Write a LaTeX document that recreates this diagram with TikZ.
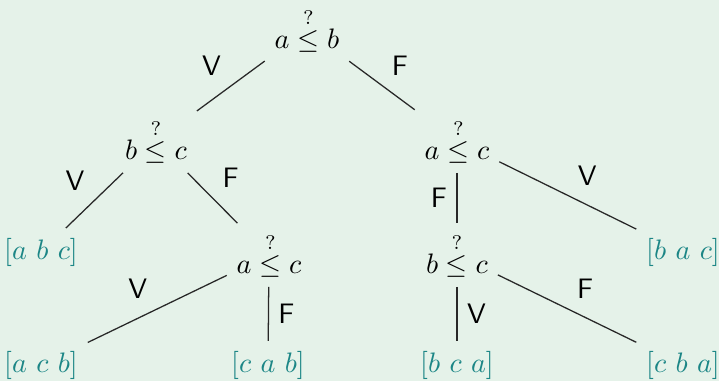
\documentclass[tikz,border=0pt]{standalone}
\usepackage{amsmath, amssymb}
\usepackage[dvipsnames]{xcolor}
\usepackage{tikz}
\usetikzlibrary{arrows.meta,calc,positioning}
\definecolor{bgmint}{RGB}{229,242,233}
\definecolor{leafteal}{RGB}{28,134,134}
\definecolor{edgegray}{RGB}{40,40,40}

\begin{document}
\begin{tikzpicture}[x=0.355pt,y=-0.355pt,
    leaf/.style={text=leafteal},
    lbl/.style={font=\sffamily, text=black},
    edge/.style={draw=edgegray, line width=0.45pt}]
        %Background
        \fill[bgmint] (0,0) rectangle (719,381);
        \useasboundingbox (0,0) rectangle (719,381);
        %Comparisons
        \node (root) at (307,30) {$a \stackrel{?}{\leq} b$};
        \node (l) at (156,141) {$b \stackrel{?}{\leq} c$};
        \node (r) at (457,141) {$a \stackrel{?}{\leq} c$};
        \node (lr) at (269,255) {$a \stackrel{?}{\leq} c$};
        \node (rl) at (457,255) {$b \stackrel{?}{\leq} c$};
        %Leaves
        \node[leaf] (ll) at (41,252) {$[a\ b\ c]$};
        \node[leaf] (rr) at (683,252) {$[b\ a\ c]$};
        \node[leaf] (lrl) at (41,365) {$[a\ c\ b]$};
        \node[leaf] (lrr) at (268,365) {$[c\ a\ b]$};
        \node[leaf] (rll) at (457,365) {$[b\ c\ a]$};
        \node[leaf] (rlr) at (683,365) {$[c\ b\ a]$};
        %Edges
        \draw[edge] (root) -- node[lbl,above left]{V} (l);
        \draw[edge] (root) -- node[lbl,above right]{F} (r);
        \draw[edge] (l) -- node[lbl,above left]{V} (ll);
        \draw[edge] (l) -- node[lbl,above right]{F} (lr);
        \draw[edge] (r) -- node[lbl,left]{F} (rl);
        \draw[edge] (r) -- node[lbl,above right]{V} (rr);
        \draw[edge] (lr) -- node[lbl,above left]{V} (lrl);
        \draw[edge] (lr) -- node[lbl,right]{F} (lrr);
        \draw[edge] (rl) -- node[lbl,right]{V} (rll);
        \draw[edge] (rl) -- node[lbl,above right]{F} (rlr);
      \end{tikzpicture}
\end{document}
